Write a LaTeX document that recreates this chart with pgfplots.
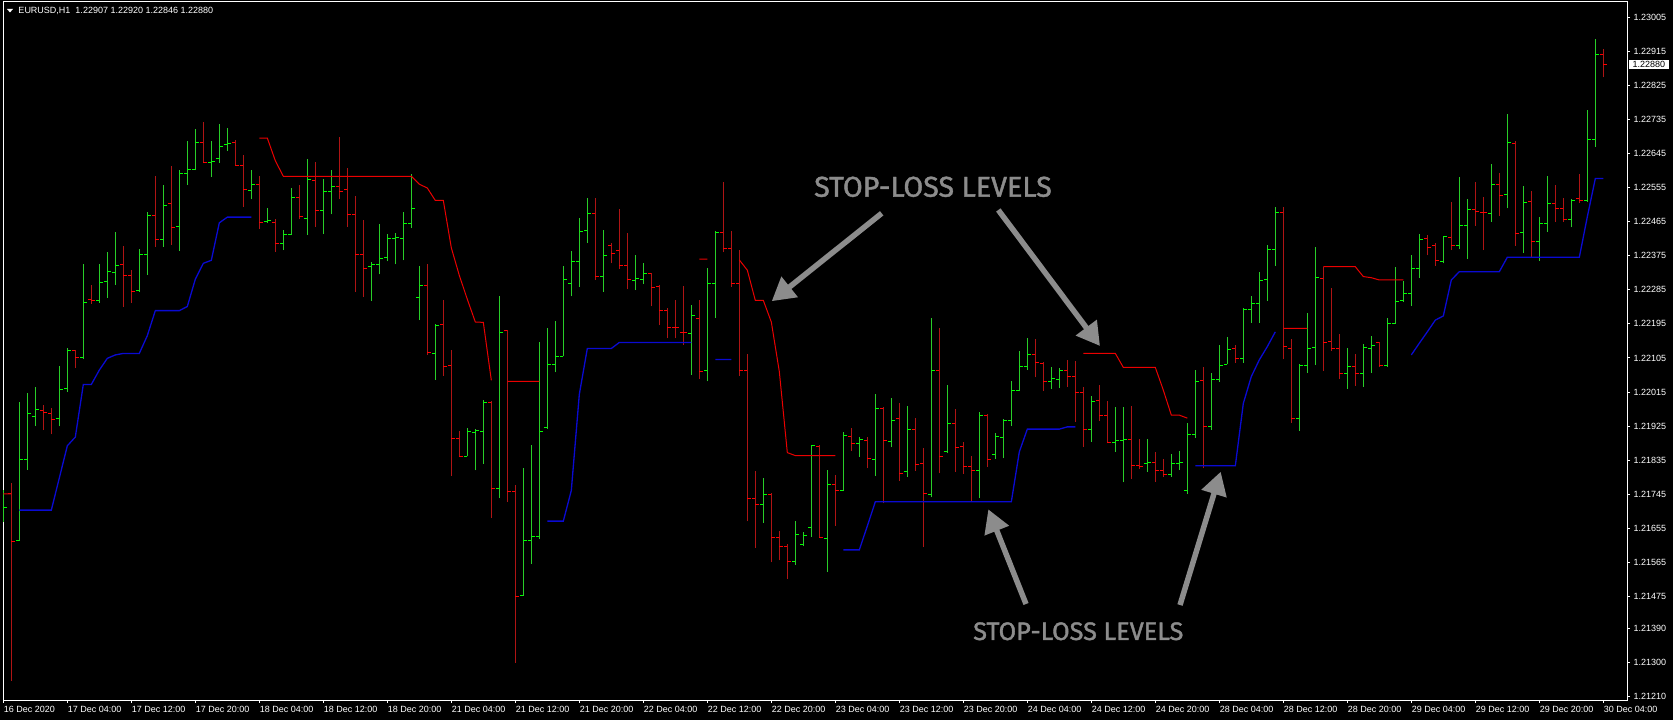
\documentclass[border=0pt]{standalone}
\usepackage{fontspec}
\setmainfont{Liberation Sans}
\newfontfamily\annfont{Fira Sans}[FakeBold=1.5]
\usepackage{pgfplots}
\pgfplotsset{compat=1.18}
\usepackage{pgfplotstable}
\usetikzlibrary{arrows.meta}
\definecolor{bullline}{RGB}{40,205,40}
\definecolor{bulltick}{RGB}{0,255,0}
\definecolor{bearline}{RGB}{175,20,20}
\definecolor{beartick}{RGB}{255,0,0}
\definecolor{slred}{RGB}{235,0,0}
\definecolor{slblue}{RGB}{10,10,210}
\definecolor{anngray}{RGB}{140,140,140}
% bullish hourly bars: bar index, open, high, low, close
\pgfplotstableread{
i O H L C
0 1.21682 1.21756 1.21672 1.21711
2 1.21622 1.21989 1.21622 1.21836
3 1.21836 1.22013 1.21810 1.21957
4 1.21951 1.22028 1.21925 1.21969
7 1.21945 1.22085 1.21924 1.22023
8 1.22025 1.22131 1.22015 1.22124
10 1.22106 1.22354 1.22103 1.22251
12 1.22256 1.22354 1.22251 1.22305
13 1.22308 1.22384 1.22264 1.22333
14 1.22331 1.22438 1.22298 1.22348
17 1.22283 1.22393 1.22280 1.22378
18 1.22378 1.22491 1.22325 1.22482
20 1.22418 1.22562 1.22399 1.22509
22 1.22452 1.22601 1.22388 1.22593
23 1.22591 1.22679 1.22563 1.22602
24 1.22602 1.22710 1.22601 1.22673
26 1.22621 1.22679 1.22583 1.22624
27 1.22633 1.22722 1.22621 1.22664
28 1.22669 1.22713 1.22653 1.22672
31 1.22547 1.22602 1.22524 1.22563
33 1.22465 1.22502 1.22462 1.22467
35 1.22408 1.22442 1.22390 1.22431
36 1.22432 1.22555 1.22429 1.22530
38 1.22474 1.22631 1.22430 1.22577
40 1.22495 1.22577 1.22432 1.22544
41 1.22544 1.22602 1.22484 1.22559
46 1.22347 1.22359 1.22255 1.22353
47 1.22353 1.22458 1.22326 1.22369
48 1.22370 1.22432 1.22360 1.22421
49 1.22420 1.22434 1.22352 1.22422
50 1.22420 1.22491 1.22363 1.22461
51 1.22461 1.22590 1.22448 1.22501
52 1.22264 1.22348 1.22205 1.22297
54 1.22118 1.22194 1.22048 1.22191
58 1.21846 1.21920 1.21845 1.21912
59 1.21907 1.21918 1.21808 1.21914
60 1.21911 1.21993 1.21825 1.21988
62 1.21761 1.22268 1.21734 1.22173
65 1.21477 1.21814 1.21477 1.21624
66 1.21624 1.21876 1.21562 1.21634
67 1.21634 1.22146 1.21627 1.21911
68 1.21920 1.22183 1.21918 1.22089
69 1.22088 1.22203 1.22067 1.22109
70 1.22109 1.22348 1.22109 1.22312
71 1.22303 1.22387 1.22268 1.22360
72 1.22360 1.22475 1.22293 1.22440
73 1.22442 1.22528 1.22410 1.22487
75 1.22321 1.22442 1.22280 1.22377
79 1.22310 1.22376 1.22284 1.22314
80 1.22313 1.22357 1.22300 1.22328
86 1.22169 1.22244 1.22060 1.22217
88 1.22071 1.22342 1.22043 1.22302
89 1.22302 1.22440 1.22210 1.22437
95 1.21718 1.21788 1.21670 1.21745
99 1.21567 1.21673 1.21558 1.21638
100 1.21611 1.21645 1.21607 1.21636
101 1.21658 1.21876 1.21632 1.21875
103 1.21629 1.21809 1.21539 1.21772
105 1.21754 1.21909 1.21753 1.21899
107 1.21880 1.21895 1.21844 1.21890
109 1.21836 1.22010 1.21794 1.21971
111 1.21884 1.21999 1.21869 1.21939
113 1.21805 1.21978 1.21791 1.21917
116 1.21743 1.22211 1.21737 1.22073
118 1.21857 1.22034 1.21855 1.21931
122 1.21807 1.21962 1.21734 1.21954
124 1.21849 1.21906 1.21838 1.21897
125 1.21894 1.21945 1.21840 1.21941
126 1.21939 1.22045 1.21925 1.22020
127 1.22020 1.22123 1.22017 1.22082
128 1.22082 1.22157 1.22073 1.22113
131 1.22042 1.22082 1.22023 1.22050
132 1.22049 1.22078 1.22025 1.22071
136 1.21915 1.22005 1.21884 1.21990
139 1.21882 1.21975 1.21857 1.21888
140 1.21886 1.21975 1.21776 1.21890
143 1.21825 1.21890 1.21805 1.21830
146 1.21796 1.21851 1.21791 1.21825
147 1.21825 1.21860 1.21809 1.21828
148 1.21754 1.21932 1.21746 1.21904
149 1.21904 1.22073 1.21893 1.22042
151 1.21925 1.22066 1.21915 1.22049
152 1.22049 1.22139 1.22042 1.22086
153 1.22089 1.22160 1.22089 1.22128
155 1.22104 1.22236 1.22093 1.22234
156 1.22234 1.22269 1.22198 1.22249
157 1.22249 1.22332 1.22198 1.22309
158 1.22313 1.22403 1.22256 1.22392
159 1.22392 1.22503 1.22348 1.22489
162 1.21946 1.22088 1.21913 1.22086
163 1.22086 1.22223 1.22066 1.22131
164 1.22133 1.22397 1.22086 1.22318
168 1.22063 1.22131 1.22024 1.22082
170 1.22065 1.22142 1.22029 1.22133
171 1.22131 1.22163 1.22065 1.22137
173 1.22086 1.22210 1.22082 1.22197
174 1.22197 1.22346 1.22195 1.22254
175 1.22258 1.22309 1.22254 1.22274
176 1.22274 1.22377 1.22242 1.22342
177 1.22342 1.22432 1.22316 1.22418
180 1.22359 1.22427 1.22355 1.22425
182 1.22401 1.22584 1.22392 1.22454
183 1.22456 1.22524 1.22366 1.22496
186 1.22487 1.22617 1.22465 1.22562
188 1.22536 1.22750 1.22500 1.22674
190 1.22436 1.22558 1.22382 1.22515
192 1.22413 1.22477 1.22362 1.22459
193 1.22459 1.22586 1.22439 1.22512
196 1.22470 1.22524 1.22450 1.22522
198 1.22521 1.22760 1.22518 1.22683
199 1.22681 1.22948 1.22663 1.22907
}\bull
% bearish hourly bars
\pgfplotstableread{
i O H L C
1 1.21746 1.21776 1.21252 1.21621
5 1.21965 1.21981 1.21915 1.21961
6 1.21957 1.21973 1.21903 1.21943
9 1.22124 1.22126 1.22078 1.22106
11 1.22260 1.22298 1.22248 1.22257
15 1.22351 1.22401 1.22240 1.22323
16 1.22323 1.22338 1.22250 1.22281
19 1.22482 1.22585 1.22399 1.22419
21 1.22512 1.22611 1.22404 1.22450
25 1.22673 1.22728 1.22619 1.22621
29 1.22675 1.22681 1.22613 1.22614
30 1.22614 1.22641 1.22504 1.22549
32 1.22563 1.22585 1.22447 1.22464
34 1.22464 1.22472 1.22386 1.22408
37 1.22530 1.22562 1.22472 1.22478
39 1.22575 1.22623 1.22452 1.22495
42 1.22558 1.22689 1.22526 1.22545
43 1.22550 1.22606 1.22452 1.22485
44 1.22485 1.22532 1.22279 1.22378
45 1.22378 1.22470 1.22267 1.22341
53 1.22297 1.22353 1.22114 1.22120
55 1.22193 1.22258 1.22058 1.22082
56 1.22084 1.22127 1.21793 1.21893
57 1.21893 1.21912 1.21843 1.21846
61 1.21987 1.21991 1.21682 1.21761
63 1.22177 1.22178 1.21725 1.21753
64 1.21753 1.21769 1.21300 1.21475
74 1.22487 1.22528 1.22312 1.22321
76 1.22401 1.22409 1.22355 1.22381
77 1.22390 1.22498 1.22341 1.22348
78 1.22348 1.22435 1.22286 1.22311
81 1.22328 1.22330 1.22241 1.22290
82 1.22293 1.22297 1.22191 1.22231
83 1.22231 1.22237 1.22157 1.22186
84 1.22186 1.22257 1.22157 1.22185
85 1.22173 1.22295 1.22139 1.22171
87 1.22210 1.22259 1.22050 1.22069
90 1.22437 1.22570 1.22384 1.22394
91 1.22394 1.22440 1.22293 1.22302
92 1.22302 1.22390 1.22058 1.22073
93 1.22073 1.22116 1.21673 1.21735
94 1.21735 1.21806 1.21604 1.21718
96 1.21745 1.21749 1.21565 1.21631
97 1.21631 1.21649 1.21570 1.21607
98 1.21607 1.21613 1.21522 1.21567
102 1.21871 1.21874 1.21629 1.21631
104 1.21772 1.21796 1.21662 1.21756
106 1.21897 1.21921 1.21860 1.21880
108 1.21888 1.21897 1.21813 1.21839
110 1.21971 1.21976 1.21721 1.21888
112 1.21946 1.21987 1.21781 1.21799
114 1.21915 1.21946 1.21807 1.21823
115 1.21825 1.21867 1.21605 1.21746
117 1.22073 1.22184 1.21800 1.21846
119 1.21932 1.21971 1.21805 1.21869
120 1.21871 1.21883 1.21799 1.21818
121 1.21818 1.21846 1.21728 1.21807
123 1.21954 1.21957 1.21818 1.21836
129 1.22113 1.22155 1.22054 1.22092
130 1.22091 1.22094 1.22019 1.22042
133 1.22073 1.22100 1.22029 1.22057
134 1.22057 1.22097 1.21937 1.22013
135 1.22013 1.22028 1.21871 1.21917
137 1.21992 1.22034 1.21939 1.21954
138 1.21954 1.21992 1.21880 1.21882
141 1.21890 1.21978 1.21785 1.21822
142 1.21822 1.21890 1.21812 1.21818
144 1.21830 1.21857 1.21778 1.21809
145 1.21809 1.21837 1.21790 1.21796
150 1.22045 1.22080 1.21813 1.21923
154 1.22131 1.22139 1.22093 1.22104
160 1.22489 1.22503 1.22101 1.22135
161 1.22131 1.22154 1.21934 1.21946
165 1.22316 1.22346 1.22071 1.22145
166 1.22149 1.22290 1.22124 1.22131
167 1.22131 1.22168 1.22050 1.22063
169 1.22082 1.22116 1.22031 1.22065
172 1.22145 1.22147 1.22080 1.22084
178 1.22420 1.22430 1.22376 1.22397
179 1.22401 1.22408 1.22348 1.22362
181 1.22424 1.22517 1.22390 1.22403
184 1.22498 1.22570 1.22454 1.22491
185 1.22489 1.22530 1.22390 1.22488
187 1.22562 1.22593 1.22481 1.22533
189 1.22672 1.22677 1.22401 1.22434
191 1.22518 1.22546 1.22373 1.22413
194 1.22512 1.22562 1.22465 1.22500
195 1.22500 1.22527 1.22465 1.22470
197 1.22525 1.22591 1.22515 1.22522
200 1.22907 1.22920 1.22846 1.22880
}\bear
\pgfplotstableread{
i v
2 1.21703
6 1.21703
7 1.21788
8 1.21873
9 1.21896
10 1.22035
11 1.22035
12 1.22073
13 1.22104
14 1.22113
15 1.22117
17 1.22117
18 1.22164
19 1.22230
22 1.22230
23 1.22241
24 1.22313
25 1.22355
26 1.22363
27 1.22462
28 1.22477
31 1.22477
32 nan
68 1.21674
70 1.21674
71 1.21755
72 1.22009
73 1.22130
76 1.22130
77 1.22146
86 1.22146
87 nan
89 1.22101
91 1.22101
92 nan
105 1.21598
107 1.21598
108 1.21661
109 1.21725
126 1.21725
127 1.21857
128 1.21917
132 1.21917
133 1.21923
134 1.21923
135 nan
149 1.21820
154 1.21820
155 1.21985
156 1.22056
157 1.22100
158 1.22135
159 1.22174
160 nan
176 1.22113
177 1.22144
178 1.22174
179 1.22205
180 1.22216
181 1.22311
182 1.22333
187 1.22333
188 1.22371
197 1.22371
198 1.22478
199 1.22579
200 1.22579
}\bluesl
\pgfplotstableread{
i v
0 1.21746
1 1.21746
2 nan
32 1.22686
33 1.22686
34 1.22626
35 1.22585
51 1.22585
52 1.22564
53 1.22554
54 1.22521
55 1.22521
56 1.22396
57 1.22323
58 1.22260
59 1.22200
60 1.22199
61 1.22046
62 nan
63 1.22043
67 1.22043
68 nan
87 1.22366
88 1.22366
89 nan
92 1.22364
93 1.22337
94 1.22257
95 1.22257
96 1.22200
97 1.22069
98 1.21855
99 1.21847
104 1.21847
105 nan
135 1.22117
139 1.22117
140 1.22080
144 1.22080
145 1.22020
146 1.21954
147 1.21954
148 1.21946
149 nan
160 1.22183
163 1.22183
164 nan
165 1.22346
169 1.22346
170 1.22320
171 1.22317
172 1.22311
175 1.22311
}\redsl
\begin{document}
\begin{tikzpicture}
\fill[black] (0,0) rectangle (1673bp,720bp);
\begin{axis}[
  at={(3bp,20bp)}, anchor=south west,
  scale only axis, width=1624bp, height=698bp,
  xmin=-0.04, xmax=202.96, ymin=1.212014, ymax=1.230454,
  clip mode=individual,
  axis line style={white, line width=1bp},
  tick style={white, line width=1bp},
  major tick length=3bp, tick align=outside,
  xtick pos=left, ytick pos=right,
  xticklabel pos=left, yticklabel pos=right,
  ticklabel style={font=\fontsize{9bp}{10bp}\selectfont, text=white},
  xticklabel style={anchor=north west, xshift=-3pt},
  xtick={0,8,...,200},
  xticklabels={16 Dec 2020,17 Dec 04:00,17 Dec 12:00,17 Dec 20:00,18 Dec 04:00,18 Dec 12:00,18 Dec 20:00,21 Dec 04:00,21 Dec 12:00,21 Dec 20:00,22 Dec 04:00,22 Dec 12:00,22 Dec 20:00,23 Dec 04:00,23 Dec 12:00,23 Dec 20:00,24 Dec 04:00,24 Dec 12:00,24 Dec 20:00,28 Dec 04:00,28 Dec 12:00,28 Dec 20:00,29 Dec 04:00,29 Dec 12:00,29 Dec 20:00,30 Dec 04:00},
  ytick={1.21210,1.21300,1.21390,1.21475,1.21565,1.21655,1.21745,1.21835,1.21925,1.22015,1.22105,1.22195,1.22285,1.22375,1.22465,1.22555,1.22645,1.22735,1.22825,1.22915,1.23005},
  yticklabels={1.21210,1.21300,1.21390,1.21475,1.21565,1.21655,1.21745,1.21835,1.21925,1.22015,1.22105,1.22195,1.22285,1.22375,1.22465,1.22555,1.22645,1.22735,1.22825,1.22915,1.23005},
  scaled y ticks=false,
]
% bull bars: high-low line, open tick (left), close tick (right)
\addplot[bullline, line width=1bp, mark=none, forget plot,
  quiver={u=0, v=\thisrow{H}-\thisrow{L}}] table[x=i, y=L] {\bull};
\addplot[bulltick, line width=1bp, mark=none, forget plot,
  quiver={u=-0.42, v=0}] table[x=i, y=O] {\bull};
\addplot[bulltick, line width=1bp, mark=none, forget plot,
  quiver={u=0.42, v=0}] table[x=i, y=C] {\bull};
% bear bars
\addplot[bearline, line width=1bp, mark=none, forget plot,
  quiver={u=0, v=\thisrow{H}-\thisrow{L}}] table[x=i, y=L] {\bear};
\addplot[beartick, line width=1bp, mark=none, forget plot,
  quiver={u=-0.42, v=0}] table[x=i, y=O] {\bear};
\addplot[beartick, line width=1bp, mark=none, forget plot,
  quiver={u=0.42, v=0}] table[x=i, y=C] {\bear};
% stop-loss lines
\addplot[slblue, line width=1.3bp, mark=none, unbounded coords=jump] table[x=i, y=v] {\bluesl};
\addplot[slred, line width=1bp, mark=none, unbounded coords=jump] table[x=i, y=v] {\redsl};
% current price label
\node[anchor=west, fill=white, text=black, inner xsep=3.5bp, inner ysep=1bp,
  text height=6.6bp, text depth=0.6bp, font=\fontsize{9bp}{10bp}\selectfont,
  xshift=2bp] at (axis cs:202.96,1.22880) {1.22880};
\end{axis}
% title
\fill[white] (7bp,711bp) -- (13bp,711bp) -- (10bp,707.5bp) -- cycle;
\node[anchor=base west, inner sep=0pt, text=white, font=\fontsize{9bp}{10bp}\selectfont]
  at (18.3bp,706.7bp) {EURUSD,H1\ \ 1.22907 1.22920 1.22846 1.22880};
% annotations
\node[anchor=base west, inner sep=0pt, text=anngray, font=\annfont\fontsize{28.6bp}{31bp}\selectfont]
  at (814bp,523.3bp) {STOP-LOSS LEVELS};
\node[anchor=base west, inner sep=0pt, text=anngray, font=\annfont\fontsize{25.3bp}{28bp}\selectfont]
  at (973bp,80bp) {STOP-LOSS LEVELS};
\draw[anngray, line width=5.5bp, -{Triangle[length=23bp,width=25bp]}] (881.7bp,506.7bp) -- (771.7bp,418.8bp);
\draw[anngray, line width=5.5bp, -{Triangle[length=23bp,width=25bp]}] (998.3bp,510bp) -- (1100bp,374bp);
\draw[anngray, line width=5.5bp, -{Triangle[length=23bp,width=25bp]}] (1026bp,116bp) -- (988.3bp,210.7bp);
\draw[anngray, line width=5.5bp, -{Triangle[length=23bp,width=25bp]}] (1180bp,115bp) -- (1220.7bp,248.3bp);
\end{tikzpicture}
\end{document}
